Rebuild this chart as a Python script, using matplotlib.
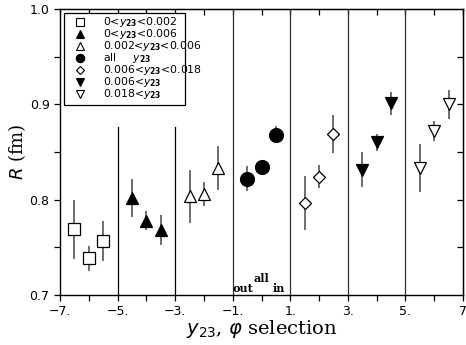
import matplotlib
matplotlib.use("Agg")
import matplotlib.pyplot as plt
from matplotlib.patches import Rectangle

# x positions, R values and errors for each y23 selection
sq_x = [-6.5, -6.0, -5.5]
sq_r = [0.769, 0.7385, 0.757]
sq_e = [0.031, 0.013, 0.021]

tu_x = [-4.5, -4.0, -3.5]
tu_r = [0.802, 0.778, 0.768]
tu_e = [0.020, 0.010, 0.016]

ou_x = [-2.5, -2.0, -1.5]
ou_r = [0.8035, 0.806, 0.833]
ou_e = [0.028, 0.013, 0.023]

ci_x = [-0.5, 0.0, 0.5]
ci_r = [0.822, 0.8344, 0.868]
ci_e = [0.013, 0.004, 0.009]

di_x = [1.5, 2.0, 2.5]
di_r = [0.7965, 0.824, 0.869]
di_e = [0.028, 0.012, 0.020]

td_x = [3.5, 4.0, 4.5]
td_r = [0.8316, 0.860, 0.901]
td_e = [0.018, 0.009, 0.012]

od_x = [5.5, 6.0, 6.5]
od_r = [0.833, 0.872, 0.900]
od_e = [0.025, 0.011, 0.015]

labels = [r"0<$y_{\mathbf{23}}$<0.002", r"0<$y_{\mathbf{23}}$<0.006",
          r"0.002<$y_{\mathbf{23}}$<0.006", r"all     $y_{\mathbf{23}}$",
          r"0.006<$y_{\mathbf{23}}$<0.018", r"0.006<$y_{\mathbf{23}}$",
          r"0.018<$y_{\mathbf{23}}$"]

xticks = [-7, -5, -3, -1, 1, 3, 5, 7]
xticklabels = ["\u22127.", "\u22125.", "\u22123.", "\u22121.", "1.", "3.", "5.", "7"]
yticks = [0.7, 0.8, 0.9, 1.0]

fig = plt.figure(figsize=(4.66, 3.45), dpi=100)
ax = fig.add_axes([0.1288, 0.145, 0.8648, 0.829])

ecol = "#555555"
series = [
    (sq_x, sq_r, sq_e, "s", "white", 9),
    (tu_x, tu_r, tu_e, "^", "black", 9),
    (ou_x, ou_r, ou_e, "^", "white", 9),
    (ci_x, ci_r, ci_e, "o", "black", 10),
    (di_x, di_r, di_e, "D", "white", 6.5),
    (td_x, td_r, td_e, "v", "black", 9),
    (od_x, od_r, od_e, "v", "white", 9),
]
for xs, rs, es, m, fc, ms in series:
    ax.errorbar(xs, rs, yerr=es, fmt="none", ecolor=ecol, elinewidth=1.2, capsize=0, zorder=2)
    ax.plot(xs, rs, linestyle="none", marker=m, markersize=ms, markerfacecolor=fc,
            markeredgecolor="black", markeredgewidth=0.9, zorder=3)

# separators between selections
for xv in [-5, -3]:
    ax.axvline(xv, ymin=0, ymax=(0.876 - 0.7) / 0.3, color="black", lw=0.9, zorder=1)
for xv in [-1, 1, 3, 5]:
    ax.axvline(xv, color="#333333", lw=0.9, zorder=1)

ax.text(-0.64, 0.7015, "out", ha="center", va="bottom", fontsize=8, family="DejaVu Serif", weight="bold")
ax.text(-0.02, 0.711, "all", ha="center", va="bottom", fontsize=8, family="DejaVu Serif", weight="bold")
ax.text(0.59, 0.7015, "in", ha="center", va="bottom", fontsize=8, family="DejaVu Serif", weight="bold")

ax.set_xlim(-7, 7)
ax.set_ylim(0.7, 1.0)
ax.set_xticks(xticks)
ax.set_xticklabels(xticklabels)
ax.set_xticks(range(-7, 8), minor=True)
ax.set_yticks(yticks)
ax.set_yticklabels(["0.7", "0.8", "0.9", "1.0"])
ax.set_yticks([0.75, 0.85, 0.95], minor=True)
ax.tick_params(which="both", direction="out", length=4, width=0.9, labelsize=9,
               top=False, right=False)
ax2 = ax.secondary_xaxis("top")
ax2.set_xticks(range(-7, 8))
ax2.tick_params(direction="in", length=4, width=0.9, labeltop=False)
ax3 = ax.secondary_yaxis("right")
ax3.set_yticks([0.75, 0.8, 0.85, 0.9, 0.95])
ax3.tick_params(direction="in", length=4, width=0.9, labelright=False)
for s in ax.spines.values():
    s.set_linewidth(1.0)

ax.set_xlabel(r"$y_{23}$, $\varphi$ selection", family="DejaVu Serif", fontsize=14, labelpad=0)
ax.set_ylabel(r"$R$ (fm)", family="DejaVu Serif", fontsize=13)
ax.yaxis.set_label_coords(-0.08, 0.5)

# hand-drawn legend box (text runs past the frame as in the original)
ax.add_patch(Rectangle((0.0099, 0.664), 0.300, 0.322, transform=ax.transAxes,
                       facecolor="white", edgecolor="black", lw=0.9, zorder=5))
row_y = [0.953, 0.914, 0.871, 0.830, 0.787, 0.746, 0.704]
for i, ((_, _, _, m, fc, _), lab) in enumerate(zip(series, labels)):
    ax.plot([0.0496], [row_y[i]], transform=ax.transAxes, linestyle="none", marker=m,
            markersize=6 if m != "D" else 4.5, markerfacecolor=fc, markeredgecolor="black",
            markeredgewidth=0.8, zorder=6, clip_on=False)
    ax.text(0.1067, row_y[i], lab, transform=ax.transAxes, ha="left", va="center",
            fontsize=7.8, zorder=6)

fig.savefig("out.png", dpi=100)
